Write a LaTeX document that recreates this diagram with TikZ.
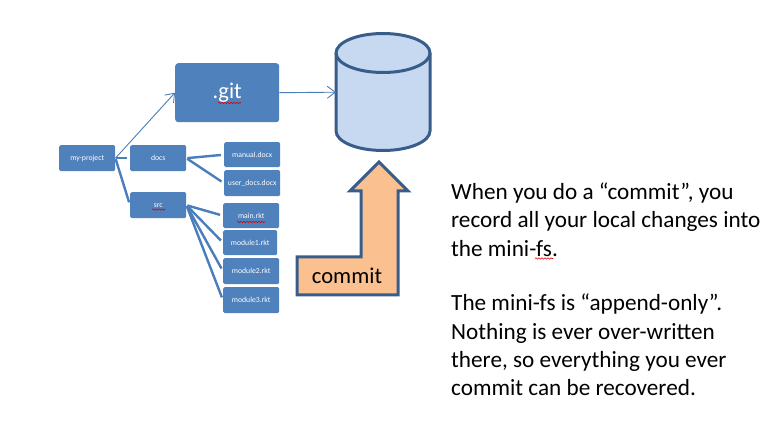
\documentclass[tikz,border=0pt]{standalone}
\usepackage{fontspec}
\setmainfont{Carlito}
\usetikzlibrary{arrows.meta,decorations.pathmorphing}
\definecolor{boxblue}{HTML}{4F81BD}
\definecolor{linkblue}{HTML}{4A7EBB}
\definecolor{edgeblue}{HTML}{385D8A}
\definecolor{cylfill}{HTML}{C6D9F1}
\definecolor{orangefill}{HTML}{FAC090}
\tikzset{
  x=1pt,y=-1pt,
  fbox/.style={rectangle,rounded corners=1.5pt,fill=boxblue,text=white,font=\fontsize{7.7}{8}\selectfont,inner sep=0pt,anchor=north west,align=center},
  link/.style={draw=linkblue,line width=2.4pt,shorten >=3pt,shorten <=1pt},
  thinlink/.style={draw=linkblue,line width=0.9pt,-{Straight Barb[length=8pt,width=12pt,line width=0.9pt]}},
  squiggle/.style={draw=red!85!black,line width=0.6pt,decorate,decoration={snake,amplitude=0.7pt,segment length=3pt}},
  solid3d/.style={draw=edgeblue,line width=3pt,line join=miter},
  bodytext/.style={font=\fontsize{23.2}{28.4}\selectfont,text=black,align=left,anchor=north west,inner sep=0pt}
}
\newcommand{\fb}[6]{\node[fbox,minimum width=#4pt,minimum height=#5pt] (#1) at (#2,#3) {#6};}
\begin{document}
\begin{tikzpicture}
\useasboundingbox (0,0) rectangle (774,427);
\fb{proj}{59}{145}{56}{26}{my-project}
\fb{docs}{130}{145}{56}{26}{docs}
\fb{src}{130}{192}{56}{26}{src}
\fb{manual}{224}{142}{56}{25}{manual.docx}
\fb{user}{224}{170}{56}{26}{user\_docs.docx}
\fb{main}{223}{203}{56}{25}{main.rkt}
\fb{modA}{223}{230}{54}{25}{module1.rkt}
\fb{modB}{223}{258}{56}{26}{module2.rkt}
\fb{modC}{223}{287}{56}{26}{module3.rkt}
\node[fbox,minimum width=104pt,minimum height=59pt,rounded corners=3pt,font=\fontsize{22.5}{24}\selectfont] (git) at (175,63) {.git};
% cylinder
\node[minimum width=94pt,minimum height=118pt,inner sep=0pt,anchor=north west] (store) at (336,33) {};
\draw[solid3d,fill=cylfill] (336,53) arc[x radius=47,y radius=-19.5,start angle=180,end angle=0] -- (430,131) arc[x radius=47,y radius=-19.5,start angle=0,end angle=-180] -- cycle;
\draw[solid3d] (336,53) arc[x radius=47,y radius=-19.5,start angle=-180,end angle=0];
% commit arrow
\draw[solid3d,fill=orangefill] (379,162) -- (408,191) -- (398,191) -- (398,295) -- (297,295) -- (297,257) -- (361,257) -- (361,191) -- (350,191) -- cycle;
\node[font=\fontsize{22.6}{24}\selectfont,text=black,inner sep=0pt] (commit) at (347,276) {commit};
% connectors
\draw[link] (proj.east) -- (docs.west);
\draw[link] (proj.east) -- (src.west);
\draw[thinlink] (proj.east) -- (git.west);
\draw[link] (docs.east) -- (manual.west);
\draw[link] (docs.east) -- (user.west);
\draw[link] (src.east) -- (main.west);
\draw[link] (src.east) -- (modA.west);
\draw[link] (src.east) -- (modB.west);
\draw[link] (src.east) -- (modC.west);
\draw[thinlink] (git.east) -- (store.west);
% spelling marks
\draw[squiggle] (152,209.5) -- (165,209.5);
\draw[squiggle] (237,222) -- (265,222);
\draw[squiggle] (218,103) -- (241,103);
\draw[squiggle] (535,258.5) -- (553,258.5);
% body text
\node[bodytext] (body) at (451,182.5) {When you do a “commit”, you\\record all your local changes into\\the mini-fs.\\[26pt]The mini-fs is “append-only”.\\Nothing is ever over-written\\there, so everything you ever\\commit can be recovered.};
\end{tikzpicture}
\end{document}
